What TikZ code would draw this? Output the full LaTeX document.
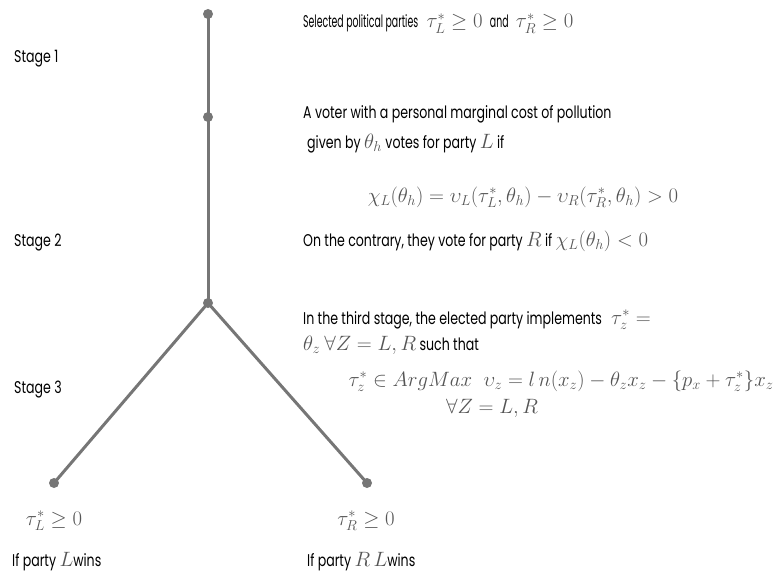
\documentclass[tikz,border=0pt]{standalone}
\usepackage{fontspec}
\setmainfont[FakeStretch=0.74]{Poppins}
\newfontfamily\narrowfont[FakeStretch=0.55]{Poppins}
\definecolor{linegray}{RGB}{118,118,118}
\definecolor{mathgray}{RGB}{85,85,85}
\newcommand{\mm}[1]{{\color{mathgray}\fontsize{20}{22}\selectfont$#1$}}
\begin{document}
\begin{tikzpicture}[x=1pt,y=-1pt,
  dot/.style={circle,fill=linegray,inner sep=0pt,minimum size=10pt},
  branch/.style={draw=linegray,line width=3pt},
  txt/.style={anchor=base west,inner sep=0pt,font=\fontsize{17}{19}\selectfont},
  eq/.style={anchor=base,inner sep=0pt,font=\fontsize{17}{19}\selectfont}]
\useasboundingbox (0,0) rectangle (778,575);
% tree
\node[dot] (n1) at (208,14) {};
\node[dot] (n2) at (208,117) {};
\node[dot] (n3) at (208,303) {};
\node[dot] (nL) at (54,483) {};
\node[dot] (nR) at (367,483) {};
\draw[branch] (n1.center) -- (n2.center);
\draw[branch] (n2.center) -- (n3.center);
\draw[branch] (n3.center) -- (nL.center);
\draw[branch] (n3.center) -- (nR.center);
% stages
\node[txt] (s1) at (14,63) {Stage 1};
\node[txt] (s2) at (14,246) {Stage 2};
\node[txt] (s3) at (14,393) {Stage 3};
% stage 1 text
\node[txt] (t1) at (303,28) {{\narrowfont Selected political parties}\hspace{5pt} \mm{\tau_L^*\geq 0}\hspace{4pt} {\narrowfont and}\hspace{4pt} \mm{\tau_R^*\geq 0}};
% stage 2 text
\node[txt] (t2) at (303,118) {A voter with a personal marginal cost of pollution};
\node[txt] (t3) at (307,148) {given by \mm{\theta_h} votes for party \mm{L} if};
\node[eq] (e1) at (523,202) {\mm{\chi_L(\theta_h)=\upsilon_L(\tau_L^*,\theta_h)-\upsilon_R(\tau_R^*,\theta_h)>0}};
\node[txt] (t4) at (303,246) {On the contrary, they vote for party \mm{R} if \mm{\chi_L(\theta_h)<0}};
% stage 3 text
\node[txt] (t5) at (303,324) {In the third stage, the elected party implements \mm{\;\tau_z^*=}};
\node[txt] (t6) at (303,350) {\mm{\theta_z\ \forall Z=L,R} such that};
\node[eq] (e2) at (561,386) {\mm{\tau_z^*\in ArgMax\;\;\upsilon_z=l\,n(x_z)-\theta_z x_z-\{p_x+\tau_z^*\}x_z}};
\node[eq] (e3) at (492,413) {\mm{\forall Z=L,R}};
% leaves
\node[eq] (lL) at (54,525) {\mm{\tau_L^*\geq 0}};
\node[eq] (lR) at (366,525) {\mm{\tau_R^*\geq 0}};
\node[txt] (wL) at (12,566) {If party \mm{L}wins};
\node[txt] (wR) at (307,566) {If party \mm{R} \mm{L}wins};
\end{tikzpicture}
\end{document}
